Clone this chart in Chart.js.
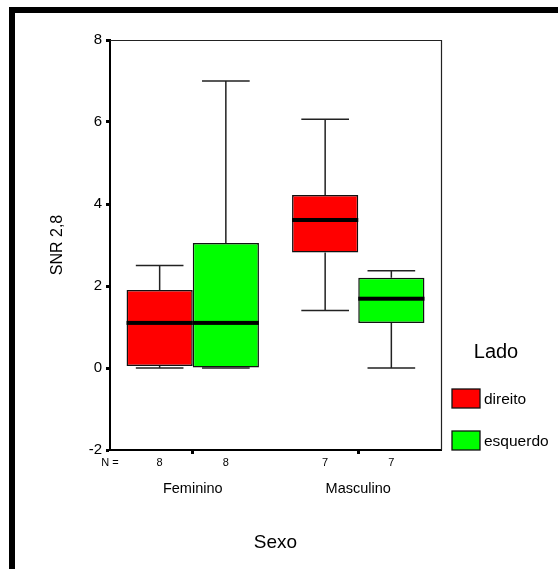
<!DOCTYPE html>
<html>
<head>
<meta charset="utf-8">
<script src="https://cdn.jsdelivr.net/npm/chart.js@4"></script>
<style>
    body { margin: 0; background: #fff; }
    #frame {
        position: absolute; left: 9px; top: 7px; right: 0; bottom: 0;
        border-left: 6px solid #000; border-top: 6px solid #000;
    }
    #chart { position: absolute; left: 0; top: 0; }
</style>
</head>
<body>
<div id="frame"></div>
<canvas id="chart" width="558" height="569"></canvas>
<script>
// 数据
const categories = ['Feminino', 'Masculino'];
const seriesLabels = ['direito', 'esquerdo'];
const seriesColors = ['#ff0000', '#00ff00'];

const direitoMin    = [0.0, 1.40];
const direitoQ1     = [0.05, 2.82];
const direitoMedian = [1.10, 3.61];
const direitoQ3     = [1.90, 4.22];
const direitoMax    = [2.50, 6.07];
const direitoN      = [8, 7];

const esquerdoMin    = [0.0, 0.0];
const esquerdoQ1     = [0.0, 1.10];
const esquerdoMedian = [1.10, 1.69];
const esquerdoQ3     = [3.05, 2.20];
const esquerdoMax    = [7.00, 2.37];
const esquerdoN      = [8, 7];

const yTicks = [-2, 0, 2, 4, 6, 8];
const yTitle = 'SNR 2,8';
const xTitle = 'Sexo';
const legendTitle = 'Lado';

const FONT = '"Liberation Sans", Arial, sans-serif';

const stats = [
    { min: direitoMin, q1: direitoQ1, med: direitoMedian, q3: direitoQ3, max: direitoMax, n: direitoN },
    { min: esquerdoMin, q1: esquerdoQ1, med: esquerdoMedian, q3: esquerdoQ3, max: esquerdoMax, n: esquerdoN }
];

// 箱线图绘制插件
const boxPlugin = {
    id: 'boxPlugin',
    beforeDatasetsDraw(chart) {
        const { ctx, chartArea: a } = chart;
        ctx.save();
        ctx.strokeStyle = '#222';
        ctx.lineWidth = 1.2;
        ctx.beginPath();
        ctx.moveTo(a.left, a.top + 0.5);
        ctx.lineTo(a.right + 0.5, a.top + 0.5);
        ctx.lineTo(a.right + 0.5, a.bottom);
        ctx.stroke();
        ctx.restore();
    },
    afterDatasetsDraw(chart) {
        const ctx = chart.ctx;
        const yS = chart.scales.y;
        ctx.save();
        stats.forEach((s, d) => {
            chart.getDatasetMeta(d).data.forEach((bar, i) => {
                const x = bar.x, w = bar.width, cap = w * 0.36;
                const pMin = yS.getPixelForValue(s.min[i]);
                const pMax = yS.getPixelForValue(s.max[i]);
                const pQ1 = yS.getPixelForValue(s.q1[i]);
                const pQ3 = yS.getPixelForValue(s.q3[i]);
                const pMed = yS.getPixelForValue(s.med[i]);
                ctx.strokeStyle = '#222';
                ctx.lineWidth = 1.5;
                ctx.beginPath();
                ctx.moveTo(x, pQ3); ctx.lineTo(x, pMax);
                ctx.moveTo(x - cap, pMax); ctx.lineTo(x + cap, pMax);
                ctx.moveTo(x, pQ1); ctx.lineTo(x, pMin);
                ctx.moveTo(x - cap, pMin); ctx.lineTo(x + cap, pMin);
                ctx.stroke();
                ctx.fillStyle = '#000';
                ctx.fillRect(x - w / 2, pMed - 2, w, 4);
            });
        });
        ctx.restore();
    },
    afterDraw(chart) {
        const { ctx, chartArea: a } = chart;
        const xS = chart.scales.x;
        ctx.save();
        ctx.fillStyle = '#000';
        ctx.textBaseline = 'middle';
        ctx.textAlign = 'center';

        // N = 行
        ctx.font = '11px ' + FONT;
        ctx.fillText('N =', a.left, a.bottom + 13);
        stats.forEach((s, d) => {
            chart.getDatasetMeta(d).data.forEach((bar, i) => {
                ctx.fillText(String(s.n[i]), bar.x, a.bottom + 13);
            });
        });

        // 类别名
        ctx.font = '14.5px ' + FONT;
        categories.forEach((c, i) => {
            ctx.fillText(c, xS.getPixelForValue(i), a.bottom + 39);
        });

        // 轴标题
        ctx.font = '19px ' + FONT;
        ctx.fillText(xTitle, (a.left + a.right) / 2, a.bottom + 93);
        ctx.save();
        ctx.translate(58, (a.top + a.bottom) / 2);
        ctx.rotate(-Math.PI / 2);
        ctx.font = '16px ' + FONT;
        ctx.fillText(yTitle, 0, 0);
        ctx.restore();

        // 图例
        ctx.font = '20px ' + FONT;
        ctx.fillText(legendTitle, a.right + 55, 352);
        ctx.textAlign = 'left';
        ctx.font = '15.5px ' + FONT;
        const rows = [389, 431];
        seriesLabels.forEach((lab, i) => {
            ctx.fillStyle = seriesColors[i];
            ctx.fillRect(a.right + 11, rows[i], 28, 19);
            ctx.strokeStyle = '#111';
            ctx.lineWidth = 1.3;
            ctx.strokeRect(a.right + 11, rows[i], 28, 19);
            ctx.fillStyle = '#000';
            ctx.fillText(lab, a.right + 43, rows[i] + 11);
        });
        ctx.restore();
    }
};

const datasets = stats.map((s, d) => ({
    label: seriesLabels[d],
    data: s.q1.map((q1, i) => [q1, s.q3[i]]),
    backgroundColor: seriesColors[d],
    borderColor: '#111',
    borderWidth: 1.5,
    borderSkipped: false,
    categoryPercentage: 0.8,
    barPercentage: 1.0
}));

new Chart(document.getElementById('chart'), {
    type: 'bar',
    data: { labels: categories, datasets },
    options: {
        responsive: false,
        animation: false,
        devicePixelRatio: 1,
        layout: { padding: { left: 0, top: 40, right: 117, bottom: 119 } },
        plugins: { legend: { display: false }, tooltip: { enabled: false } },
        scales: {
            x: {
                type: 'category',
                offset: true,
                grid: { offset: false, drawOnChartArea: false, drawTicks: true, tickLength: 4, tickWidth: 3, tickColor: '#000' },
                border: { display: true, color: '#000', width: 2 },
                ticks: { display: false },
                afterFit(scale) { scale.height = 0; }
            },
            y: {
                min: -2,
                max: 8,
                afterBuildTicks(scale) { scale.ticks = yTicks.map(v => ({ value: v })); },
                grid: { drawOnChartArea: false, drawTicks: true, tickLength: 4, tickWidth: 3, tickColor: '#000' },
                border: { display: true, color: '#000', width: 2 },
                ticks: { color: '#000', padding: 4, font: { family: FONT, size: 15 } },
                afterFit(scale) { scale.width = 110; }
            }
        }
    },
    plugins: [boxPlugin]
});
</script>
</body>
</html>
